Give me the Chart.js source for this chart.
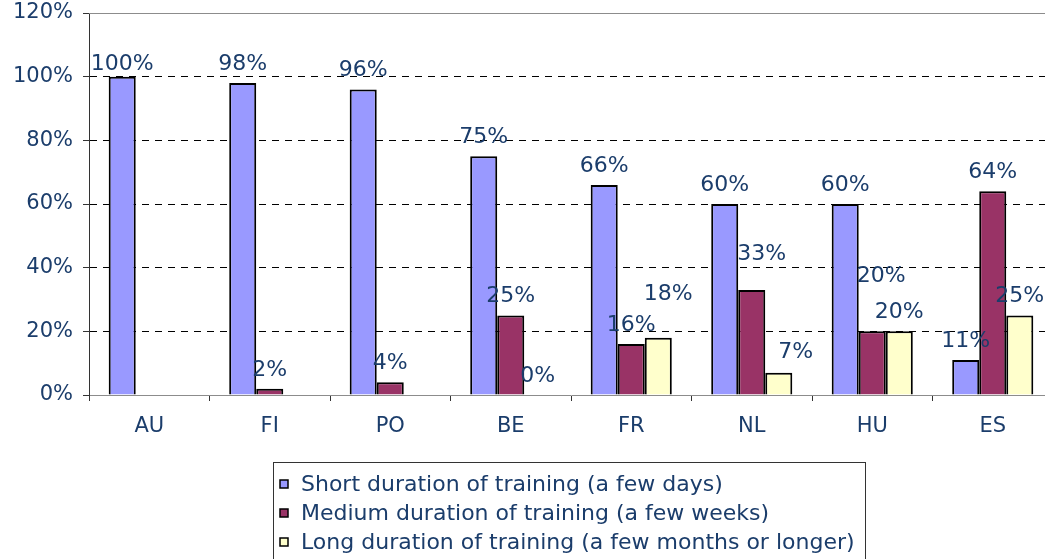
<!DOCTYPE html>
<html><head><meta charset="utf-8">
<script src="https://cdn.jsdelivr.net/npm/chart.js@4.4.0/dist/chart.umd.min.js"></script>
<style>html,body{margin:0;padding:0;background:#fff;overflow:hidden;}#wrap{width:1045px;height:559px;position:relative;overflow:hidden;}</style>
</head><body><div id="wrap"><canvas id="c" width="1053" height="559"></canvas></div>
<script>
const categories = ['AU','FI','PO','BE','FR','NL','HU','ES'];
const seriesNames = [
  'Short duration of training (a few days)',
  'Medium duration of training (a few weeks)',
  'Long duration of training (a few months or longer)'
];
const shortVals  = [100, 98, 96, 75, 66, 60, 60, 11];
const mediumVals = [null, 2, 4, 25, 16, 33, 20, 64];
const longVals   = [null, null, null, 0, 18, 7, 20, 25];
const yTickMin = 0, yTickMax = 120, yTickStep = 20;

// manual label nudges (pixels) as placed in the original: "series:category" -> [dx, dy]
const labelNudges = { '2:FR': [10, -25], '1:NL': [10, -17], '2:NL': [17, -2], '1:HU': [9, -36] };

const TEXT = '#1B3D6B';
const FONT = 'DejaVu Sans';
const colors = ['#9999FF', '#993366', '#FFFFCC'];

const labelPlugin = {
  id: 'valLabels',
  afterDatasetsDraw(chart) {
    const ctx = chart.ctx;
    ctx.save();
    ctx.font = '22px "' + FONT + '"';
    ctx.fillStyle = TEXT;
    ctx.textAlign = 'center';
    ctx.textBaseline = 'alphabetic';
    chart.data.datasets.forEach((ds, i) => {
      const meta = chart.getDatasetMeta(i);
      meta.data.forEach((el, j) => {
        const v = ds.data[j];
        if (v === null || v === undefined) return;
        const n = labelNudges[i + ':' + categories[j]] || [0, 0];
        ctx.fillText(v + '%', el.x + n[0], Math.max(el.y - 13, 70) + n[1]);
      });
    });
    ctx.restore();
  }
};

const framePlugin = {
  id: 'frame',
  afterDraw(chart) {
    const ctx = chart.ctx, a = chart.chartArea;
    ctx.save();
    ctx.strokeStyle = '#8C8C8C';
    ctx.lineWidth = 1;
    ctx.beginPath();
    ctx.moveTo(a.left, Math.round(a.top) + 0.5);
    ctx.lineTo(a.right, Math.round(a.top) + 0.5);
    ctx.stroke();
    // legend
    const bx = 273.5, by = 462.5, bw = 592, bh = 110;
    ctx.strokeStyle = '#333';
    ctx.strokeRect(bx, by, bw, bh);
    ctx.font = '22px "' + FONT + '"';
    ctx.textBaseline = 'middle';
    ctx.textAlign = 'left';
    const rows = [484, 513, 542];
    seriesNames.forEach((n, i) => {
      const cy = rows[i];
      ctx.fillStyle = colors[i];
      ctx.fillRect(280, cy - 4, 8, 8);
      ctx.strokeStyle = '#000';
      ctx.lineWidth = 1.5;
      ctx.strokeRect(280, cy - 4, 8, 8);
      ctx.fillStyle = TEXT;
      ctx.fillText(n, 301, cy + 1);
    });
    ctx.restore();
  }
};

new Chart(document.getElementById('c'), {
  type: 'bar',
  data: {
    labels: categories,
    datasets: [
      { label: seriesNames[0], data: shortVals, backgroundColor: colors[0] },
      { label: seriesNames[1], data: mediumVals, backgroundColor: colors[1] },
      { label: seriesNames[2], data: longVals, backgroundColor: colors[2] }
    ].map(d => Object.assign(d, { borderColor: '#000', borderWidth: 2, categoryPercentage: 0.673, barPercentage: 1 }))
  },
  options: {
    responsive: false,
    animation: false,
    layout: { padding: { top: 13, left: 0, right: 0, bottom: 0 } },
    plugins: { legend: { display: false }, tooltip: { enabled: false } },
    scales: {
      x: {
        grid: { offset: true, drawOnChartArea: false, drawTicks: true, tickLength: 6, tickColor: '#333' },
        border: { color: '#8C8C8C', width: 1 },
        ticks: { font: { family: FONT, size: 21 }, color: TEXT, padding: 13, maxRotation: 0 },
        afterFit(s) { s.height = 164; s.paddingLeft = 0; s.paddingRight = 0; }
      },
      y: {
        min: yTickMin, max: yTickMax,
        grid: {
          color: (c) => (c.tick && (c.tick.value === 0 || c.tick.value === 120)) ? 'rgba(0,0,0,0)' : '#000',
          lineWidth: 1, tickLength: 6, tickColor: '#333', drawTicks: true
        },
        border: { color: '#333', width: 1, dash: [7, 6] },
        ticks: { stepSize: yTickStep, callback: v => v + '%', font: { family: FONT, size: 21 }, color: TEXT, padding: 10 },
        afterFit(s) { s.width = 89; s.paddingTop = 0; s.paddingBottom = 0; }
      }
    }
  },
  plugins: [labelPlugin, framePlugin]
});
</script></body></html>
